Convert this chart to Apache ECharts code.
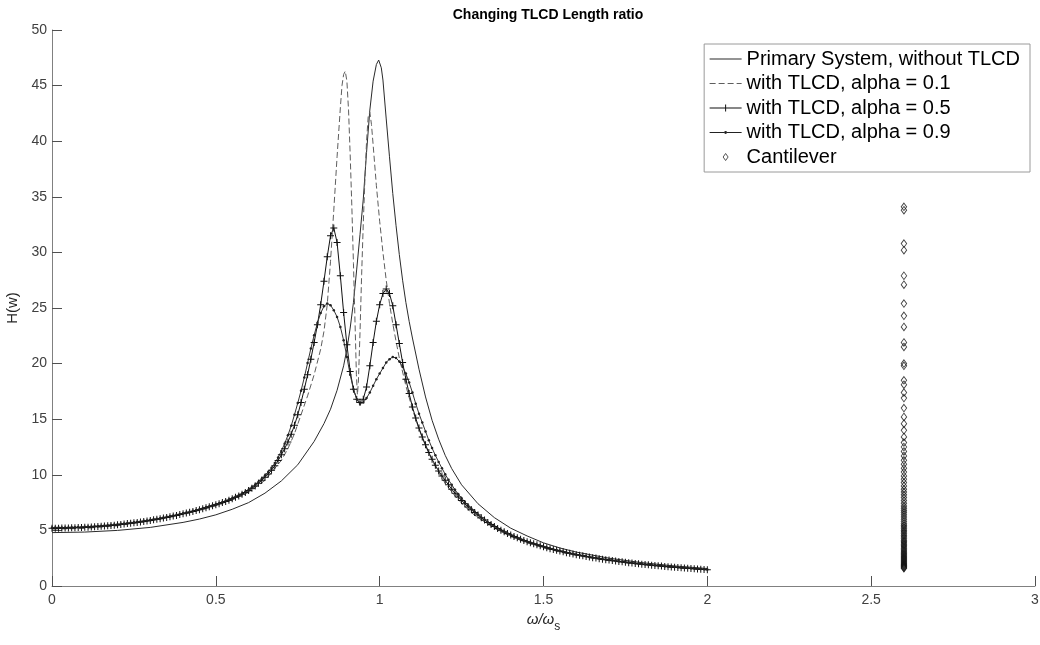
<!DOCTYPE html>
<html>
<head>
<meta charset="utf-8">
<script src="https://cdn.jsdelivr.net/npm/echarts@6/dist/echarts.min.js"></script>
<style>
html,body{margin:0;padding:0;background:#fff;}
#chart{width:1040px;height:645px;}
</style>
</head>
<body>
<div id="chart"></div>
<script>
// ---------- data ----------
const titleText = 'Changing TLCD Length ratio';
const seriesNames = ['Primary System, without TLCD','with TLCD, alpha = 0.1','with TLCD, alpha = 0.5','with TLCD, alpha = 0.9','Cantilever'];
const xTicks = [0, 0.5, 1, 1.5, 2, 2.5, 3];
const yTicks = [0, 5, 10, 15, 20, 25, 30, 35, 40, 45, 50];

// frequency ratio grid (0 .. 2, step 0.01) used by the TLCD alpha 0.5 / 0.9 series
const freq = Array.from({length: 201}, (_, i) => i / 100);

// primary system, [omega ratio, H]
const primary = [[0,4.8],[0.1,4.85],[0.2,5.0],[0.3,5.27],[0.4,5.72],[0.45,6.02],[0.5,6.4],[0.55,6.9],[0.6,7.5],[0.65,8.35],[0.7,9.45],[0.75,10.9],[0.8,13.0],[0.83,14.6],[0.85,15.9],[0.87,17.6],[0.89,19.8],[0.9,21.3],[0.91,23.2],[0.92,25.5],[0.93,28.5],[0.94,31.6],[0.95,34.8],[0.96,39.0],[0.97,42.8],[0.98,45.4],[0.99,46.9],[0.997,47.3],[1.005,46.6],[1.01,45.5],[1.02,42.0],[1.03,38.6],[1.04,35.3],[1.05,32.4],[1.06,29.8],[1.07,27.5],[1.08,25.5],[1.09,23.8],[1.1,22.3],[1.12,19.5],[1.14,17.0],[1.16,14.9],[1.18,13.2],[1.2,11.75],[1.22,10.55],[1.25,9.1],[1.3,7.4],[1.35,6.15],[1.4,5.2],[1.45,4.5],[1.5,3.88],[1.55,3.42],[1.6,3.05],[1.7,2.5],[1.8,2.1],[1.9,1.8],[2.0,1.57]];

// alpha = 0.1, [omega ratio, H]
const alpha01 = [[0,5.12],[0.1,5.18],[0.2,5.42],[0.3,5.85],[0.4,6.45],[0.45,6.8],[0.5,7.22],[0.55,7.75],[0.6,8.42],[0.65,9.5],[0.7,11.3],[0.72,12.35],[0.74,13.7],[0.76,15.4],[0.78,17.1],[0.8,19.0],[0.82,21.3],[0.83,22.9],[0.84,25.3],[0.85,29.2],[0.86,33.8],[0.87,38.6],[0.88,43.0],[0.885,45.0],[0.89,46.0],[0.895,46.3],[0.9,45.4],[0.905,42.8],[0.91,38.8],[0.915,34.2],[0.92,29.0],[0.925,23.5],[0.929,19.0],[0.932,17.2],[0.935,18.3],[0.94,22.8],[0.945,28.0],[0.95,32.6],[0.955,36.6],[0.96,40.0],[0.965,42.2],[0.97,42.6],[0.975,41.5],[0.98,39.7],[0.99,36.0],[1.0,32.8],[1.01,30.0],[1.02,27.5],[1.03,25.4],[1.04,23.6],[1.05,22.0],[1.06,20.5],[1.08,18.0],[1.1,15.9],[1.12,14.1],[1.14,12.6],[1.16,11.3],[1.18,10.2],[1.2,9.25],[1.22,8.45],[1.25,7.45],[1.28,6.6],[1.3,6.15],[1.35,5.2],[1.4,4.45],[1.45,3.88],[1.5,3.43],[1.55,3.06],[1.6,2.76],[1.65,2.5],[1.7,2.28],[1.75,2.09],[1.8,1.93],[1.85,1.79],[1.9,1.67],[1.95,1.56],[2.0,1.46]];

// alpha = 0.5, one value per freq step
const alpha05 = [5.20,5.20,5.20,5.21,5.21,5.22,5.23,5.24,5.25,5.26,
5.28,5.29,5.31,5.33,5.35,5.37,5.39,5.42,5.45,5.47,
5.50,5.54,5.57,5.61,5.64,5.68,5.72,5.76,5.81,5.85,
5.90,5.95,6.00,6.05,6.11,6.17,6.23,6.29,6.35,6.42,
6.49,6.56,6.63,6.71,6.78,6.86,6.94,7.03,7.12,7.21,
7.30,7.40,7.50,7.61,7.72,7.84,7.97,8.10,8.25,8.40,
8.58,8.78,9.00,9.24,9.50,9.78,10.08,10.42,10.82,11.28,
11.80,12.35,12.95,13.65,14.45,15.40,16.50,17.70,19.00,20.40,
21.90,23.50,25.30,27.40,29.60,31.50,32.20,30.90,27.90,24.60,
21.70,19.30,17.70,16.80,16.50,16.80,17.90,19.80,21.90,23.80,
25.30,26.30,26.70,26.30,25.20,23.50,21.80,20.10,18.60,17.30,
16.10,15.10,14.20,13.40,12.70,12.00,11.40,10.85,10.35,9.90,
9.50,9.10,8.70,8.35,8.00,7.70,7.40,7.10,6.85,6.60,
6.38,6.14,5.93,5.72,5.53,5.35,5.18,5.02,4.87,4.72,
4.58,4.45,4.33,4.21,4.10,3.99,3.89,3.79,3.70,3.61,
3.52,3.44,3.36,3.28,3.21,3.14,3.07,3.00,2.94,2.88,
2.82,2.76,2.71,2.66,2.60,2.55,2.51,2.46,2.41,2.37,
2.33,2.29,2.25,2.21,2.17,2.13,2.10,2.06,2.03,2.00,
1.96,1.93,1.90,1.87,1.84,1.82,1.79,1.76,1.74,1.71,
1.69,1.66,1.64,1.61,1.59,1.57,1.55,1.53,1.51,1.49,
1.47];

// alpha = 0.9, one value per freq step
const alpha09 = [5.25,5.25,5.25,5.26,5.26,5.27,5.28,5.29,5.30,5.31,
5.33,5.34,5.36,5.38,5.40,5.42,5.44,5.47,5.50,5.52,
5.55,5.59,5.62,5.66,5.69,5.73,5.77,5.81,5.86,5.90,
5.95,6.00,6.05,6.10,6.16,6.22,6.28,6.34,6.40,6.47,
6.54,6.61,6.68,6.76,6.83,6.91,6.99,7.08,7.17,7.26,
7.35,7.45,7.55,7.66,7.78,7.90,8.03,8.17,8.32,8.48,
8.66,8.87,9.10,9.35,9.63,9.93,10.26,10.63,11.05,11.55,
12.15,12.80,13.55,14.40,15.40,16.45,17.55,18.75,20.05,21.35,
22.55,23.65,24.55,25.15,25.40,25.25,24.80,24.20,23.30,22.10,
20.60,19.00,17.70,16.80,16.40,16.50,16.90,17.40,18.00,18.60,
19.10,19.60,20.10,20.40,20.60,20.50,20.20,19.70,19.10,18.30,
17.40,16.40,15.50,14.70,13.90,13.10,12.40,11.75,11.15,10.60,
10.05,9.55,9.10,8.65,8.25,7.90,7.55,7.25,6.95,6.68,
6.42,6.17,5.95,5.74,5.55,5.37,5.20,5.04,4.89,4.74,
4.60,4.47,4.35,4.23,4.12,4.01,3.91,3.81,3.72,3.63,
3.54,3.46,3.38,3.30,3.23,3.16,3.09,3.02,2.96,2.90,
2.84,2.78,2.73,2.68,2.62,2.57,2.53,2.48,2.43,2.39,
2.35,2.31,2.27,2.23,2.19,2.15,2.12,2.08,2.05,2.02,
1.98,1.95,1.92,1.89,1.86,1.84,1.81,1.78,1.76,1.73,
1.71,1.68,1.66,1.63,1.61,1.59,1.57,1.55,1.53,1.51,
1.49];

// cantilever, all at one frequency ratio
const cantileverX = 2.6;
const cantileverH = [34.1,33.8,30.8,30.2,27.9,27.1,25.4,24.3,23.3,21.9,21.5,20.0,19.8,18.5,18.1,17.4,16.9,16.0,15.2,14.6,14.0,13.4,
12.9,12.5,12.1,11.7,11.3,10.95,10.6,10.25,9.9,9.6,9.3,9.0,8.7,8.45,8.2,7.95,7.7,7.45,7.2,7.0,6.8,6.6,6.4,6.2,6.0,5.8,5.6,5.45,5.3,5.15,5.0,4.85,4.7,4.55,4.4,4.25,4.1,3.98,3.86,3.74,3.62,3.5,3.38,3.26,3.15,3.04,2.93,2.83,2.73,2.63,2.53,2.44,2.35,2.26,2.17,2.09,2.01,1.93,1.86,1.79,1.72,1.65,1.6];

// ---------- chart ----------
const FONT = '"Liberation Sans", Arial, Helvetica, sans-serif';
const plusSymbol = 'path://M-0.5,-3.5h1v3h3v1h-3v3h-1v-3h-3v-1h3Z';
const icons = [
  'path://M0,0M32,10M0,4.5H32V5.5H0Z',
  'path://M0,0M32,10M0,4.5h6v1h-6Z M9,4.5h6v1h-6Z M18,4.5h6v1h-6Z M27,4.5h5v1h-5Z',
  'path://M0,0M32,10M0,4.5H32V5.5H0Z M15.5,1.5h1v3h-1Z M15.5,5.5h1v3h-1Z',
  'path://M0,0M32,10M0,4.5H14.6V5.5H0Z M17.4,4.5H32V5.5H17.4Z M14.6,5a1.4,1.4 0 1,1 2.8,0a1.4,1.4 0 1,1 -2.8,0Z',
  'path://M0,0M32,10M13.5,5L16,1.5L18.5,5L16,8.5Z'
];

const chart = echarts.init(document.getElementById('chart'), null, {renderer: 'canvas'});
chart.setOption({
  animation: false,
  backgroundColor: '#fff',
  title: {
    text: titleText,
    left: 543,
    textAlign: 'center',
    top: 3,
    textStyle: {fontFamily: FONT, fontSize: 14, fontWeight: 'bold', color: '#000'}
  },
  legend: {
    orient: 'vertical',
    right: 10,
    top: 44,
    padding: [5, 10, 5, 5],
    itemGap: 4.5,
    itemWidth: 32,
    itemHeight: 10,
    backgroundColor: '#fff',
    borderColor: '#9a9a9a',
    borderWidth: 1,
    borderRadius: 0,
    selectedMode: false,
    itemStyle: {borderWidth: 0},
    textStyle: {fontFamily: FONT, fontSize: 20, lineHeight: 20, color: '#000'},
    data: seriesNames.map((n, i) => {
      const d = {name: n, icon: icons[i]};
      if (i === 4) d.itemStyle = {color: 'rgba(0,0,0,0)', borderColor: '#111', borderWidth: 0.9};
      return d;
    })
  },
  grid: {left: 52, right: 5, top: 30, bottom: 59, outerBoundsMode: 'none', containLabel: false},
  xAxis: {
    type: 'value',
    min: xTicks[0],
    max: xTicks[xTicks.length - 1],
    interval: xTicks[1] - xTicks[0],
    name: '{i|ω/ω}{s|s}',
    nameLocation: 'middle',
    nameGap: 22,
    nameTextStyle: {
      rich: {
        i: {fontFamily: FONT, fontSize: 15, fontStyle: 'italic', color: '#262626', verticalAlign: 'top', lineHeight: 18},
        s: {fontFamily: FONT, fontSize: 12, color: '#262626', verticalAlign: 'top', lineHeight: 18, padding: [9, 0, 0, 0]}
      }
    },
    axisLine: {show: true, onZero: false, lineStyle: {color: '#808080', width: 1}},
    axisTick: {show: true, inside: true, length: 10, lineStyle: {color: '#505050', width: 1}},
    axisLabel: {fontFamily: FONT, fontSize: 14, color: '#404040', margin: 7},
    splitLine: {show: false}
  },
  yAxis: {
    type: 'value',
    min: yTicks[0],
    max: yTicks[yTicks.length - 1],
    interval: yTicks[1] - yTicks[0],
    name: 'H(w)',
    nameLocation: 'middle',
    nameGap: 27,
    nameRotate: 90,
    nameTextStyle: {fontFamily: FONT, fontSize: 15, color: '#262626'},
    axisLine: {show: true, onZero: false, lineStyle: {color: '#808080', width: 1}},
    axisTick: {show: true, inside: true, length: 10, lineStyle: {color: '#505050', width: 1}},
    axisLabel: {fontFamily: FONT, fontSize: 14, color: '#404040', margin: 5},
    splitLine: {show: false}
  },
  series: [
    {
      name: seriesNames[0], type: 'line', data: primary, symbol: 'none',
      lineStyle: {color: '#2a2a2a', width: 1}, itemStyle: {color: '#2a2a2a'}, z: 2
    },
    {
      name: seriesNames[1], type: 'line', data: alpha01, symbol: 'none',
      lineStyle: {color: '#5e5e5e', width: 1, type: [6, 3]}, itemStyle: {color: '#5e5e5e'}, z: 2
    },
    {
      name: seriesNames[2], type: 'line', data: freq.map((f, i) => [f, alpha05[i]]),
      symbol: plusSymbol, symbolSize: 7, showAllSymbol: true,
      lineStyle: {color: '#111', width: 1}, itemStyle: {color: '#111', borderWidth: 0}, z: 3
    },
    {
      name: seriesNames[3], type: 'line', data: freq.map((f, i) => [f, alpha09[i]]),
      symbol: 'circle', symbolSize: 2.5, showAllSymbol: true,
      lineStyle: {color: '#333', width: 1}, itemStyle: {color: '#222', borderWidth: 0}, z: 3
    },
    {
      name: seriesNames[4], type: 'scatter', data: cantileverH.map(v => [cantileverX, v]),
      symbol: 'diamond', symbolSize: [5.5, 7.5],
      itemStyle: {color: 'rgba(0,0,0,0)', borderColor: '#111', borderWidth: 0.9}, z: 4
    }
  ]
});
</script>
</body>
</html>
